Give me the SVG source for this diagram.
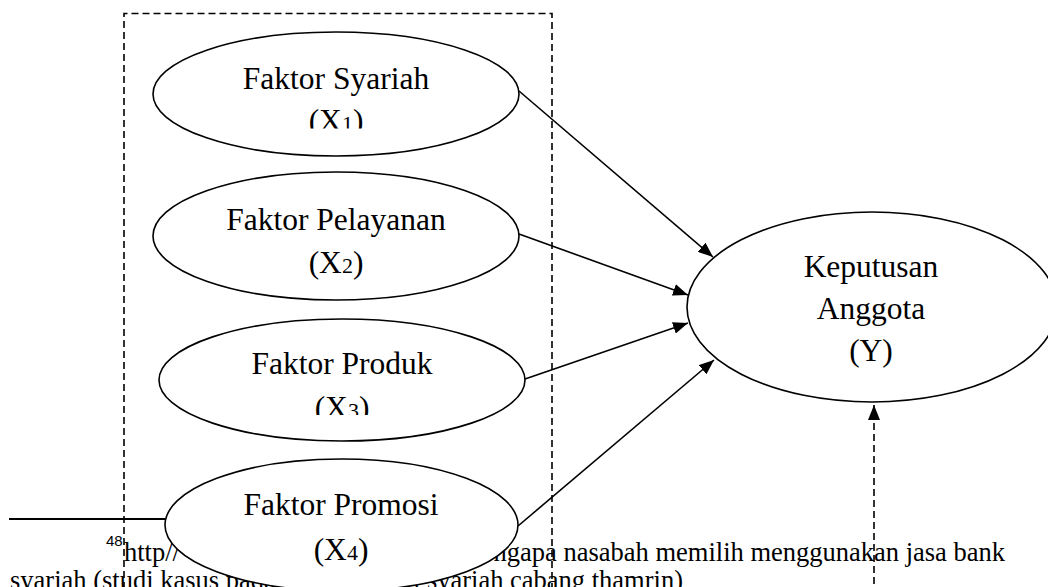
<svg xmlns="http://www.w3.org/2000/svg" width="1048" height="587" viewBox="0 0 1048 587">
  <style>
    .node { fill: #ffffff; stroke: #000000; stroke-width: 1.6; }
    .lbl { font-family: "Liberation Serif", "Times New Roman", serif; font-size: 31.5px; fill: #000000; text-anchor: middle; }
    .sub { font-size: 22px; }
    .foot { font-family: "Liberation Serif", "Times New Roman", serif; font-size: 26.5px; fill: #000000; }
    .sup { font-family: "Liberation Sans", Arial, sans-serif; font-size: 15px; fill: #000000; }
    .edge { fill: none; stroke: #000000; stroke-width: 1.6; }
    .dash { fill: none; stroke: #000000; stroke-width: 1.6; stroke-dasharray: 7 4; }
  </style>
  <defs>
    <marker id="arrow" markerUnits="userSpaceOnUse" markerWidth="16" markerHeight="12" refX="15" refY="6" orient="auto">
      <path d="M0,0 L15,6 L0,12 z" fill="#000000"/>
    </marker>
    <clipPath id="clipX1"><rect x="0" y="0" width="1048" height="128.5"/></clipPath>
    <clipPath id="clipX3"><rect x="0" y="0" width="1048" height="415"/></clipPath>
  </defs>
  <rect x="0" y="0" width="1048" height="587" fill="#ffffff"/>

  <g id="footnote">
    <line x1="9" y1="519" x2="200" y2="519" stroke="#000000" stroke-width="1.8"/>
    <text class="sup" x="106" y="546">48</text>
    <text class="foot" x="124" y="561">http//</text>
    <text class="foot" x="1005" y="561" text-anchor="end">ngapa nasabah memilih menggunakan jasa bank</text>
    <text class="foot" x="10" y="589">syariah (studi kasus pada bank</text>
    <text class="foot" x="683" y="589" text-anchor="end">mandiri syariah cabang thamrin)</text>
  </g>

  <g id="group-box">
    <path class="dash" d="M124,600 V13.5 H552 V600"/>
  </g>

  <g id="node-x1">
    <ellipse class="node" cx="336" cy="94" rx="183" ry="62"/>
    <text class="lbl" x="336" y="89">Faktor Syariah</text>
    <text class="lbl" x="336" y="131" clip-path="url(#clipX1)">(X<tspan class="sub">1</tspan>)</text>
  </g>

  <g id="node-x2">
    <ellipse class="node" cx="336" cy="236" rx="183" ry="64"/>
    <text class="lbl" x="336" y="230">Faktor Pelayanan</text>
    <text class="lbl" x="336" y="273">(X<tspan class="sub">2</tspan>)</text>
  </g>

  <g id="node-x3">
    <ellipse class="node" cx="342" cy="380" rx="183" ry="61"/>
    <text class="lbl" x="342" y="374">Faktor Produk</text>
    <text class="lbl" x="342" y="418" clip-path="url(#clipX3)">(X<tspan class="sub">3</tspan>)</text>
  </g>

  <g id="node-x4">
    <ellipse class="node" cx="341.5" cy="525" rx="176.5" ry="66"/>
    <text class="lbl" x="341" y="515">Faktor Promosi</text>
    <text class="lbl" x="341" y="560">(X<tspan class="sub">4</tspan>)</text>
  </g>

  <g id="node-y">
    <ellipse class="node" cx="872" cy="307" rx="185" ry="95"/>
    <text class="lbl" x="871" y="277">Keputusan</text>
    <text class="lbl" x="871" y="319">Anggota</text>
    <text class="lbl" x="871" y="361">(Y)</text>
  </g>

  <g id="connectors">
    <line class="edge" x1="519" y1="91" x2="713" y2="257" marker-end="url(#arrow)"/>
    <line class="edge" x1="519" y1="234" x2="688" y2="295" marker-end="url(#arrow)"/>
    <line class="edge" x1="525" y1="379" x2="688" y2="323" marker-end="url(#arrow)"/>
    <line class="edge" x1="518" y1="526" x2="714" y2="360" marker-end="url(#arrow)"/>
    <line class="dash" x1="874" y1="595" x2="874" y2="405" marker-end="url(#arrow)"/>
  </g>
</svg>
